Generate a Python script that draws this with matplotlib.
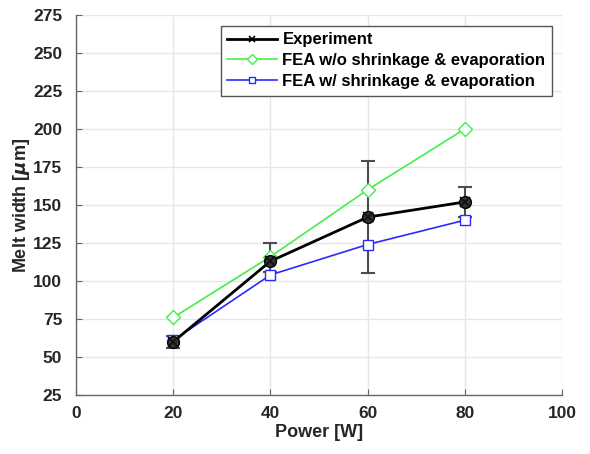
import matplotlib
matplotlib.use("Agg")
import matplotlib.pyplot as plt
import numpy as np

power = [20, 40, 60, 80]
experiment = [60, 113, 142, 152]
exp_err_low = [4, 7, 37, 10]
exp_err_high = [4, 12, 37, 10]
fea_no_shrink = [76, 116, 160, 200]
fea_shrink = [61, 104, 124, 140]

xticks = [0, 20, 40, 60, 80, 100]
yticks = [25, 50, 75, 100, 125, 150, 175, 200, 225, 250, 275]

plt.rcParams.update(
    {
        "font.family": "Liberation Sans",
        "font.weight": "bold",
        "axes.labelweight": "bold",
        "font.size": 12,
    }
)

fig = plt.figure(figsize=(5.9, 4.54), dpi=100)
ax = fig.add_axes([0.129, 0.13, 0.8235, 0.837])

ax.errorbar(power, experiment, yerr=[exp_err_low, exp_err_high], fmt="none",
            ecolor="#4d4d4d", elinewidth=1.5, capsize=5, capthick=1.5, zorder=2)
ax.plot(power, fea_no_shrink, color="#44ee44", linewidth=1.2, marker="D",
        markersize=7, markerfacecolor="white", markeredgecolor="#44ee44",
        markeredgewidth=1.0, label="FEA w/o shrinkage & evaporation", zorder=3)
ax.plot(power, fea_shrink, color="#2a2aff", linewidth=1.2, marker="s",
        markersize=6.5, markerfacecolor="white", markeredgecolor="#2a2aff",
        markeredgewidth=1.0, label="FEA w/ shrinkage & evaporation", zorder=3)
ax.plot(power, experiment, color="black", linewidth=2.0, zorder=4)
ax.plot(power, experiment, linestyle="none", marker="o", markersize=8.5,
        markerfacecolor="#333333", markeredgecolor="black", zorder=5)
ax.plot(power, experiment, linestyle="none", marker="x", markersize=7,
        color="#111111", markeredgewidth=1.2, zorder=6)

# legend handles in the original order
h_exp, = ax.plot([], [], color="black", linewidth=2.0, marker="x", markersize=6,
                 markeredgewidth=1.2, label="Experiment")
handles, labels = ax.get_legend_handles_labels()
order = [2, 0, 1]
ax.legend([handles[i] for i in order], [labels[i] for i in order],
          loc="upper right", bbox_to_anchor=(0.99, 0.985), fancybox=False,
          edgecolor="#555555", framealpha=1, fontsize=12, handlelength=3.0,
          handletextpad=0.3, borderpad=0.4, labelspacing=0.35,
          borderaxespad=0.3, markerscale=0.75)

ax.set_xlim(0, 100)
ax.set_ylim(25, 275)
ax.set_xticks(xticks)
ax.set_yticks(yticks)
ax.grid(True, color="#e6e6e6", linewidth=1.0)
ax.set_axisbelow(True)
for side in ["top", "right"]:
    ax.spines[side].set_visible(False)
for side in ["left", "bottom"]:
    ax.spines[side].set_color("#666666")
    ax.spines[side].set_linewidth(1.0)
ax.tick_params(direction="in", length=4, color="#666666", labelcolor="#262626",
               labelsize=12.5)
ax.tick_params(axis="y", pad=10)
ax.tick_params(axis="x", pad=8)
ax.set_xlabel("Power [W]", fontsize=13, color="#262626", labelpad=2)
ax.set_ylabel(r"Melt width [$\mu$m]", fontsize=13, color="#262626", labelpad=1)

fig.savefig("out.png", dpi=100)
